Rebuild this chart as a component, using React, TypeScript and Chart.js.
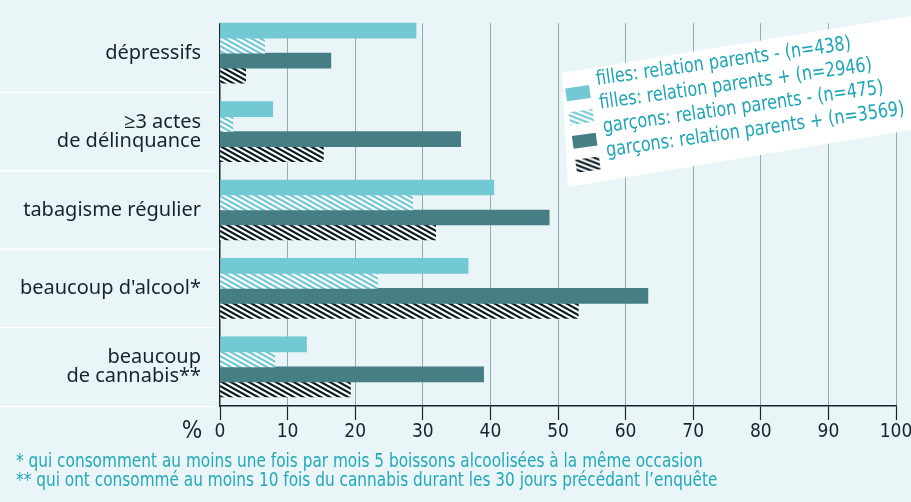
import React, { useEffect, useRef } from 'react';
import { Chart, registerables } from 'chart.js';

Chart.register(...registerables);

// ---------- data ----------
const categories: string[][] = [
  ['dépressifs'],
  ['≥3 actes', 'de délinquance'],
  ['tabagisme régulier'],
  ["beaucoup d'alcool*"],
  ['beaucoup', 'de cannabis**'],
];
const fillesMoins = [29.0, 7.8, 40.5, 36.7, 12.8];
const fillesPlus = [6.6, 1.9, 28.5, 23.3, 8.1];
const garconsMoins = [16.4, 35.6, 48.7, 63.3, 39.0];
const garconsPlus = [3.8, 15.3, 31.9, 53.0, 19.3];
const seriesLabels = [
  'filles: relation parents - (n=438)',
  'filles: relation parents + (n=2946)',
  'garçons: relation parents - (n=475)',
  'garçons: relation parents + (n=3569)',
];
const xTickValues = [0, 10, 20, 30, 40, 50, 60, 70, 80, 90, 100];
const footnotes = [
  '* qui consomment au moins une fois par mois 5 boissons alcoolisées à la même occasion',
  '** qui ont consommé au moins 10 fois du cannabis durant les 30 jours précédant l’enquête',
];
const axisUnit = '%';

// ---------- styles ----------
const BG = '#eaf5f7';
const CYAN = '#72c8d3';
const TEAL = '#457f85';
const BLACK = '#0c1a21';
const DARK = '#14252c';
const GRID = '#8eaeb2';
const LEGEND_TXT = '#1ea5b6';
const NOTE_TXT = '#22a9ba';
const NARROW = "'DejaVu Sans Condensed', 'DejaVu Sans', sans-serif";
const LABEL_FONT = "'Noto Sans', 'Open Sans', sans-serif";

function hexToRgb(h: string) {
  const n = parseInt(h.slice(1), 16);
  return [(n >> 16) & 255, (n >> 8) & 255, n & 255];
}

function makeHatch(fg: string, bg: string): CanvasPattern | string {
  const W = 9, H = 5, s = 1.8, frac = 0.5;
  const c = document.createElement('canvas');
  c.width = W; c.height = H;
  const ctx = c.getContext('2d');
  if (!ctx) return fg;
  const img = ctx.createImageData(W, H);
  const f = hexToRgb(fg), b = hexToRgb(bg);
  const SS = 4;
  for (let y = 0; y < H; y++) {
    for (let x = 0; x < W; x++) {
      let cov = 0;
      for (let sy = 0; sy < SS; sy++) {
        for (let sx = 0; sx < SS; sx++) {
          const xx = x + (sx + 0.5) / SS;
          const yy = y + (sy + 0.5) / SS;
          const u = (((xx - s * yy) % W) + W) % W;
          if (u < W * frac) cov++;
        }
      }
      const a = cov / (SS * SS);
      const i = (y * W + x) * 4;
      img.data[i] = Math.round(f[0] * a + b[0] * (1 - a));
      img.data[i + 1] = Math.round(f[1] * a + b[1] * (1 - a));
      img.data[i + 2] = Math.round(f[2] * a + b[2] * (1 - a));
      img.data[i + 3] = 255;
    }
  }
  ctx.putImageData(img, 0, 0);
  const p = ctx.createPattern(c, 'repeat');
  return p || fg;
}

const decorPlugin = {
  id: 'decor',
  beforeDatasetsDraw(chart: any) {
    const { ctx, chartArea, scales } = chart;
    const y = scales.y;
    ctx.save();
    // background above first group (grid starts at first bar top)
    const firstTop = y.getPixelForTick(0) - 30;
    ctx.fillStyle = BG;
    ctx.fillRect(chartArea.left - 3, 0, chartArea.right - chartArea.left + 6, firstTop);
    // white separators in label area
    ctx.strokeStyle = '#ffffff';
    ctx.lineWidth = 1.5;
    const n = categories.length;
    for (let i = 0; i < n; i++) {
      const yy = i < n - 1 ? (y.getPixelForTick(i) + y.getPixelForTick(i + 1)) / 2 : chartArea.bottom + 0.5;
      ctx.beginPath();
      ctx.moveTo(0, yy);
      ctx.lineTo(chartArea.left - 3.5, yy);
      ctx.stroke();
    }
    ctx.restore();
  },
  afterDraw(chart: any) {
    const { ctx, chartArea } = chart;
    ctx.save();
    // legend box
    ctx.fillStyle = '#ffffff';
    ctx.beginPath();
    ctx.moveTo(562, 73);
    ctx.lineTo(911, 16);
    ctx.lineTo(911, 130);
    ctx.lineTo(568, 187);
    ctx.closePath();
    ctx.fill();
    // legend items
    ctx.translate(597, 85);
    ctx.rotate((-8 * Math.PI) / 180);
    ctx.textBaseline = 'alphabetic';
    ctx.textAlign = 'left';
    chart.data.datasets.forEach((ds: any, k: number) => {
      ctx.fillStyle = ds.backgroundColor;
      ctx.fillRect(-32, k * 24 - 1, 24, 13);
      ctx.save();
      ctx.scale(0.89, 1);
      ctx.font = `20px ${NARROW}`;
      ctx.fillStyle = LEGEND_TXT;
      ctx.fillText(ds.label, 0, k * 24);
      ctx.restore();
    });
    ctx.restore();

    ctx.save();
    // % unit
    ctx.fillStyle = DARK;
    ctx.font = `24px ${NARROW}`;
    ctx.textAlign = 'center';
    ctx.textBaseline = 'alphabetic';
    ctx.fillText(axisUnit, chartArea.left - 28, 437.5);
    // footnotes
    ctx.fillStyle = NOTE_TXT;
    ctx.font = `20px ${NARROW}`;
    ctx.textAlign = 'left';
    const sx = 0.852;
    ctx.scale(sx, 1);
    ctx.fillText(footnotes[0], 16 / sx, 466.7);
    ctx.fillText(footnotes[1], 16 / sx, 485.7);
    ctx.restore();
  },
};

export default function App() {
  const ref = useRef<HTMLCanvasElement | null>(null);

  useEffect(() => {
    document.body.style.margin = '0';
    document.body.style.background = BG;
    const canvas = ref.current;
    if (!canvas) return;
    const hatchCyan = makeHatch(CYAN, '#ffffff');
    const hatchBlack = makeHatch(BLACK, '#ffffff');
    const chart = new Chart(canvas, {
      type: 'bar',
      data: {
        labels: categories as any,
        datasets: [
          { label: seriesLabels[0], data: fillesMoins, backgroundColor: CYAN },
          { label: seriesLabels[1], data: fillesPlus, backgroundColor: hatchCyan as any },
          { label: seriesLabels[2], data: garconsMoins, backgroundColor: TEAL },
          { label: seriesLabels[3], data: garconsPlus, backgroundColor: hatchBlack as any },
        ],
      },
      options: {
        indexAxis: 'y',
        animation: false,
        responsive: false,
        devicePixelRatio: 1,
        datasets: { bar: { barThickness: 15, borderWidth: 0 } },
        layout: { padding: { left: 0, right: 15, top: 14, bottom: 0 } },
        plugins: {
          legend: { display: false },
          tooltip: { enabled: false },
          title: { display: false },
        },
        scales: {
          x: {
            type: 'linear',
            min: 0,
            max: 100,
            afterBuildTicks: (s: any) => {
              s.ticks = xTickValues.map((v) => ({ value: v }));
            },
            ticks: {
              color: DARK,
              font: { family: NARROW, size: 19 },
              padding: 1,
              autoSkip: false,
              maxRotation: 0,
            },
            grid: {
              color: (c: any) => (c.tick && c.tick.value === 0 ? 'rgba(0,0,0,0)' : GRID),
              lineWidth: 1,
              tickLength: 14,
              tickColor: DARK,
              tickWidth: 1.2,
            },
            border: { display: true, color: DARK, width: 1.5 },
            afterFit: (s: any) => {
              s.height = 96;
              s.paddingLeft = 0;
              s.paddingRight = 0;
            },
          },
          y: {
            type: 'category',
            grid: { display: false, drawTicks: false },
            border: { display: true, color: DARK, width: 1.5 },
            ticks: {
              color: DARK,
              font: { family: LABEL_FONT, size: 20, lineHeight: 0.92 },
              padding: 19,
              autoSkip: false,
            },
            afterFit: (s: any) => {
              s.width = 220;
              s.paddingTop = 0;
              s.paddingBottom = 0;
            },
          },
        },
      } as any,
      plugins: [decorPlugin],
    });
    return () => chart.destroy();
  }, []);

  return (
    <div style={{ width: 911, height: 502, background: BG, position: 'relative' }}>
      <canvas ref={ref} width={911} height={502} style={{ display: 'block' }} />
    </div>
  );
}
